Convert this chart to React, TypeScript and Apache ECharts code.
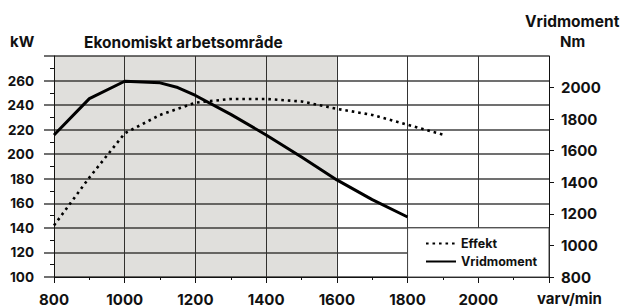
import React, { useEffect, useRef } from "react";
import * as echarts from "echarts";

const effektRpm = [800, 900, 1000, 1100, 1200, 1300, 1400, 1500, 1600, 1700, 1800, 1900];
const effektKw = [142, 181, 217, 232, 242, 245, 245, 243, 237, 232, 224, 216];
const vridRpm = [800, 900, 1000, 1100, 1150, 1200, 1300, 1400, 1500, 1600, 1700, 1800];
const vridNm = [1700, 1930, 2040, 2030, 2000, 1950, 1830, 1700, 1560, 1415, 1290, 1180];

const economicRange = [800, 1600];
const seriesNames = ["Effekt", "Vridmoment"];
const titleLeft = "kW";
const titleArea = "Ekonomiskt arbetsområde";
const titleRight1 = "Vridmoment";
const titleRight2 = "Nm";
const xUnit = "varv/min";

const FONT = "Inter, 'DejaVu Sans', sans-serif";

export default function App() {
  const ref = useRef<HTMLDivElement>(null);
  useEffect(() => {
    document.body.style.margin = "0";
    if (!ref.current) return;
    const chart = echarts.init(ref.current, undefined, { renderer: "svg" });
    const labelStyle = (size: number) => ({
      color: "#111",
      fontWeight: "bold" as const,
      fontSize: size,
      fontFamily: FONT,
      formatter: (v: number) => String(v),
    });
    const titleStyle = (text: string, size = 15.5) => ({
      text,
      fontSize: size,
      fontWeight: "bold",
      fontFamily: FONT,
      fill: "#111",
    });
    chart.setOption({
      animation: false,
      grid: { left: 54, right: 74, top: 56, bottom: 31 },
      graphic: [
        { type: "text", left: 10, top: 34, style: titleStyle(titleLeft, 15) },
        { type: "text", left: 84, top: 34, style: titleStyle(titleArea) },
        { type: "text", left: 525, top: 13, style: titleStyle(titleRight1) },
        { type: "text", left: 560, top: 34, style: titleStyle(titleRight2, 15) },
        { type: "text", left: 537, top: 291, style: titleStyle(xUnit, 15) },
      ],
      legend: {
        data: seriesNames,
        orient: "vertical",
        left: 425,
        top: 237,
        itemWidth: 30,
        itemHeight: 10,
        itemGap: 5,
        padding: 0,
        z: 20,
        itemStyle: { opacity: 0, borderWidth: 0 },
        textStyle: { color: "#111", fontWeight: "bold", fontSize: 12.5, fontFamily: FONT },
      },
      xAxis: {
        type: "value",
        min: 800,
        max: 2200,
        interval: 200,
        axisLine: { lineStyle: { color: "#111", width: 1 } },
        axisTick: { show: true, length: 6, lineStyle: { color: "#111" } },
        minorTick: { show: true, splitNumber: 2, length: 3, lineStyle: { color: "#111" } },
        axisLabel: { ...labelStyle(15), margin: 15, showMaxLabel: false },
        splitLine: { show: true, lineStyle: { color: "#333", width: 1 } },
      },
      yAxis: [
        {
          type: "value",
          min: 100,
          max: 280,
          interval: 20,
          axisLine: { show: true, lineStyle: { color: "#111" } },
          axisTick: { show: true, length: 10, lineStyle: { color: "#707070", width: 2 } },
          minorTick: { show: true, splitNumber: 2, length: 4, lineStyle: { color: "#111" } },
          axisLabel: { ...labelStyle(13.5), margin: 20, showMaxLabel: false },
          splitLine: { show: true, lineStyle: { color: "#707070", width: 2 } },
        },
        {
          type: "value",
          min: 800,
          max: 2200,
          interval: 200,
          position: "right",
          axisLine: { show: true, lineStyle: { color: "#111" } },
          axisTick: { show: true, length: 5, lineStyle: { color: "#111" } },
          axisLabel: { ...labelStyle(15), margin: 12, showMaxLabel: false },
          splitLine: { show: false },
        },
      ],
      series: [
        {
          name: "shade",
          type: "line",
          data: [],
          markArea: {
            silent: true,
            label: { show: false },
            itemStyle: { color: "rgba(48,42,22,0.15)" },
            data: [[{ xAxis: economicRange[0] }, { xAxis: economicRange[1] }]],
          },
        },
        {
          name: "Effekt",
          type: "line",
          yAxisIndex: 0,
          symbol: "none",
          z: 10,
          data: effektRpm.map((r, i) => [r, effektKw[i]]),
          lineStyle: { color: "#000", width: 2.6, type: [2.6, 3.9], cap: "butt" },
          itemStyle: { color: "#000" },
          markArea: {
            silent: true,
            label: { show: false },
            itemStyle: { color: "#ffffff", borderColor: "#444", borderWidth: 1 },
            data: [[{ xAxis: 1800, yAxis: 100 }, { xAxis: 2200, yAxis: 140 }]],
          },
        },
        {
          name: "Vridmoment",
          type: "line",
          yAxisIndex: 1,
          symbol: "none",
          z: 10,
          data: vridRpm.map((r, i) => [r, vridNm[i]]),
          lineStyle: { color: "#000", width: 3 },
          itemStyle: { color: "#000" },
        },
      ],
    });
    return () => chart.dispose();
  }, []);
  return <div ref={ref} style={{ width: 623, height: 308 }} />;
}
